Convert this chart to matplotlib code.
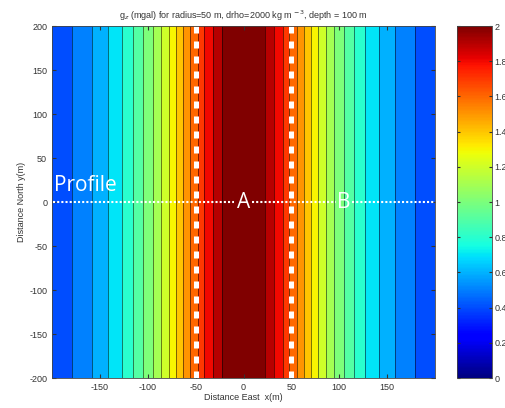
import numpy as np
import matplotlib.pyplot as plt
from matplotlib import cm
from matplotlib.colors import Normalize

# gz profile across the buried cylinder (values at the contour band edges)
x_east = [-200, -179, -158, -141, -127, -115, -105, -95, -86, -78, -70, -63, -56, -48, -41, -32, -22, 0,
          22, 32, 41, 48, 56, 63, 70, 78, 86, 95, 105, 115, 127, 141, 158, 179, 200]
gz = [0.42, 0.5, 0.6, 0.7, 0.8, 0.9, 1.0, 1.1, 1.2, 1.3, 1.4, 1.5, 1.6, 1.7, 1.8, 1.9, 2.0, 2.09,
      2.0, 1.9, 1.8, 1.7, 1.6, 1.5, 1.4, 1.3, 1.2, 1.1, 1.0, 0.9, 0.8, 0.7, 0.6, 0.5, 0.42]
y_north = [-200, 200]
levels = [0.4, 0.5, 0.6, 0.7, 0.8, 0.9, 1.0, 1.1, 1.2, 1.3, 1.4, 1.5, 1.6, 1.7, 1.8, 1.9, 2.0, 2.1]
cbar_ticks = [0, 0.2, 0.4, 0.6, 0.8, 1.0, 1.2, 1.4, 1.6, 1.8, 2.0]

plt.rcParams['font.family'] = 'Liberation Sans'
plt.rcParams['axes.unicode_minus'] = False
txt = '#333333'

fig = plt.figure(figsize=(5.05, 4.08), dpi=100)
ax = fig.add_axes([52/505, 30/408, 383/505, 352/408])
cax = fig.add_axes([457/505, 30/408, 35/505, 352/408])

jet = plt.get_cmap('jet')
Z = np.vstack([gz, gz])
# matlab style: a band takes the colour of its lower level
band_colors = [jet(min(lv / 2.0, 1.0)) for lv in levels[:-1]]
ax.contourf(x_east, y_north, Z, levels=levels, colors=band_colors)
ax.contour(x_east, y_north, Z, levels=levels[1:-1], colors='k', linewidths=0.6, alpha=0.6)

# survey markings
for xd in [-50, 50]:
    ax.plot([xd, xd], [-200, 200], color='white', lw=3.6, linestyle=(0, (1.4, 1.6)),
            dash_capstyle='butt')
for seg in [(-199, -10), (9, 97), (113, 200)]:
    ax.plot(seg, [0, 0], color='white', lw=1.5, linestyle=(0, (1, 1)))

ax.text(-198, 7, 'Profile', color='white', fontsize=15, family='Open Sans', ha='left', va='bottom')
ax.text(0, 0, 'A', color='white', fontsize=15, family='Open Sans', ha='center', va='center')
ax.text(105, 0, 'B', color='white', fontsize=15, family='Open Sans', ha='center', va='center')

ax.set_xlim(-200, 200)
ax.set_ylim(-200, 200)
ax.set_xticks([-150, -100, -50, 0, 50, 100, 150])
ax.set_yticks([-200, -150, -100, -50, 0, 50, 100, 150, 200])
ax.tick_params(direction='in', length=3, labelsize=6.5, colors=txt, top=True, right=True)
for s in ax.spines.values():
    s.set_color('#444444')
    s.set_linewidth(0.6)
ax.set_xlabel('Distance East  x(m)', fontsize=6.5, color=txt, labelpad=1)
ax.set_ylabel('Distance North y(m)', fontsize=6.5, color=txt, labelpad=2)
ax.set_title('g$_z$ (mgal) for radius=50 m, drho=2000 kg m $^{-3}$, depth = 100 m',
             fontsize=6.5, color=txt, pad=5)

sm = cm.ScalarMappable(norm=Normalize(0, 2), cmap=jet)
cb = fig.colorbar(sm, cax=cax, ticks=cbar_ticks)
cb.ax.set_yticklabels(['%g' % t for t in cbar_ticks])
cb.ax.tick_params(direction='in', length=2, labelsize=6.5, colors=txt, left=True, pad=2)
cb.outline.set_edgecolor('#444444')
cb.outline.set_linewidth(0.6)

fig.savefig('out.png', dpi=100)
